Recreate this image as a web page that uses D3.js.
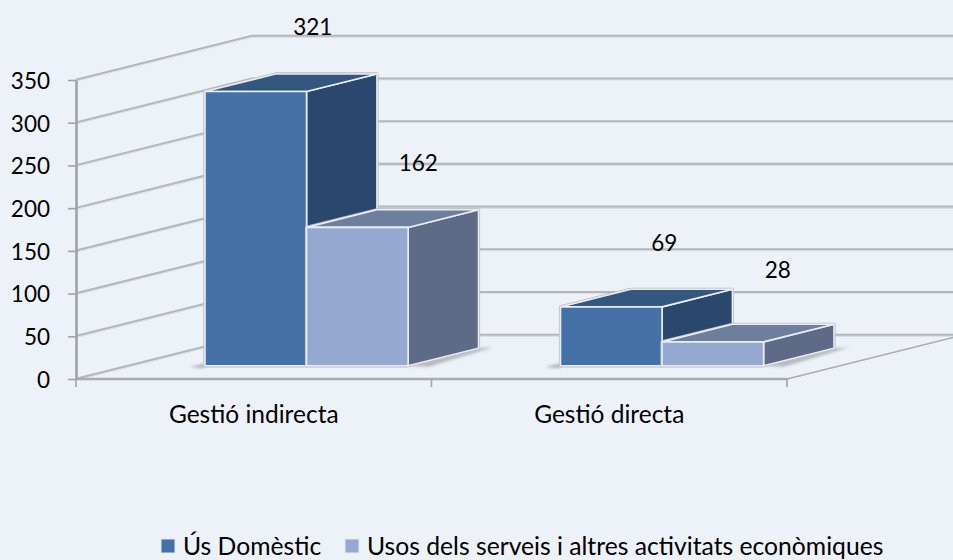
<!DOCTYPE html>
<html><head><meta charset="utf-8">
<script src="https://cdn.jsdelivr.net/npm/d3@7"></script>
<style>html,body{margin:0;padding:0;background:#EDF2F9}svg{display:block}text{font-family:Lato,"Open Sans",sans-serif;fill:#000}</style>
</head><body><div id="c"></div>
<script>
const categories = ["Gestió indirecta", "Gestió directa"];
const seriesNames = ["Ús Domèstic", "Usos dels serveis i altres activitats econòmiques"];
const usDomestic = [321, 69];
const usosServeis = [162, 28];
const yTicks = [0, 50, 100, 150, 200, 250, 300, 350];
const seriesValues = [usDomestic, usosServeis];

const W = 953, H = 560;
const frontColors = ["#4471A6", "#95A9D0"], topColors = ["#33577F", "#6E7F9D"], sideColors = ["#2B476D", "#5E6B87"];
const depthX = 176, depthY = -44, barNear = 0.3, barFar = 0.7;
// nudges from the bar's front-face centre & top, per series then category
const labelNudge = [[[57,-65],[53,-64]],[[61,-65],[65,-72]]];

const svg = d3.select("#c").append("svg").attr("width", W).attr("height", H);
const defs = svg.append("defs");
defs.append("filter").attr("id","blur").attr("x","-20%").attr("y","-50%").attr("width","140%").attr("height","200%")
  .append("feGaussianBlur").attr("stdDeviation",1.4);
const y = d3.scaleLinear().domain([0,350]).range([379,80]);
const x = d3.scaleBand().domain(categories).range([76,787]);
const xs = d3.scaleBand().domain(d3.range(2)).range([0,x.bandwidth()]).paddingOuter(0.75).paddingInner(0);
const P = (px,t,v)=>[px+depthX*t, y(v)+depthY*t];
const line = d3.line();

// gridlines on left wall and back wall
const grid = svg.append("g");
yTicks.forEach(v=>{
  const pts=[P(76,0,v),P(76,1,v),[W+10,P(76,1,v)[1]]];
  grid.append("path").attr("d",line(pts)).attr("fill","none").attr("stroke","#B4B6B9").attr("stroke-width",2.6);
  grid.append("path").attr("d",line(pts.map(p=>[p[0],p[1]+1.2]))).attr("fill","none").attr("stroke","#DDE0E4").attr("stroke-width",1);
});
// floor edges
const floorG = svg.append("g");
floorG.append("path").attr("d",line([[787,379],P(787,1,0)])).attr("stroke","#A9ABAE").attr("stroke-width",1.6).attr("fill","none");
floorG.append("path").attr("d",line([[76,379],[787,379]])).attr("stroke","#ABADB0").attr("stroke-width",2.6).attr("fill","none");

// axes
const axY = svg.append("g").attr("transform","translate(76,0)").call(d3.axisLeft(y).tickValues(yTicks).tickSize(8).tickPadding(18).tickSizeOuter(0));
axY.select(".domain").attr("stroke","#A0A2A5").attr("stroke-width",2.6);
axY.selectAll("line").attr("stroke","#A0A2A5").attr("stroke-width",1.6);
axY.selectAll("text").attr("font-size",22.5).style("font-family","Lato").attr("dy","0.37em");
const axX = svg.append("g").attr("transform","translate(0,379)").call(d3.axisBottom(x).tickSize(0).tickPadding(27));
axX.select(".domain").remove();
axX.selectAll("text").attr("font-size",24.5).style("font-family","Lato");
svg.append("g").selectAll("line").data([76,x(categories[1]),787]).join("line")
  .attr("x1",d=>d).attr("x2",d=>d).attr("y1",379).attr("y2",387).attr("stroke","#A0A2A5").attr("stroke-width",1.6);

// bars
const bars = svg.append("g");
const poly = pts => line(pts)+"Z";
categories.forEach((c,ci)=>{
  const x0=x(c)+xs(0), x1=x(c)+xs(1)+xs.bandwidth();
  const a0=P(x0,barNear,0), a1=P(x1,barNear,0), b1=P(x1,barFar,0);
  // floor shadow
  bars.append("path").attr("d",poly([[a0[0]-15,a0[1]+1],[a0[0],a0[1]-2],[a0[0],a0[1]+2],[a0[0]-8,a0[1]+2]]))
    .attr("fill","#A8ABB0").attr("filter","url(#blur)");
  bars.append("path").attr("d",poly([a1,b1,[b1[0]+15,b1[1]-1],[a1[0]+20,a1[1]+1]]))
    .attr("fill","#B4B7BC").attr("filter","url(#blur)");
  seriesValues.forEach((vals,si)=>{
    const v=vals[ci], a=x(c)+xs(si), b=a+xs.bandwidth();
    const stroke="#E9EDF3";
    const outer=[P(a,barNear,0),P(a,barNear,v),P(a,barFar,v),P(b,barFar,v),P(b,barFar,0),P(b,barNear,0)];
    bars.append("path").attr("d",poly(outer)).attr("fill","none").attr("stroke","#B9BCC1").attr("stroke-width",3.2).attr("stroke-linejoin","round");
    bars.append("path").attr("d",poly([P(b,barNear,0),P(b,barFar,0),P(b,barFar,v),P(b,barNear,v)])).attr("fill",sideColors[si]).attr("stroke",stroke).attr("stroke-width",1.6);
    bars.append("path").attr("d",poly([P(a,barNear,v),P(a,barFar,v),P(b,barFar,v),P(b,barNear,v)])).attr("fill",topColors[si]).attr("stroke",stroke).attr("stroke-width",1.6);
    bars.append("path").attr("d",poly([P(a,barNear,0),P(a,barNear,v),P(b,barNear,v),P(b,barNear,0)])).attr("fill",frontColors[si]).attr("stroke",stroke).attr("stroke-width",1.6);
  });
});
// data labels
seriesValues.forEach((vals,si)=>vals.forEach((v,ci)=>{
  const a=x(categories[ci])+xs(si), p=P(a+xs.bandwidth()/2,barNear,v), n=labelNudge[si][ci];
  svg.append("text").attr("x",p[0]+n[0]).attr("y",p[1]+n[1]).attr("dy","0.36em").attr("text-anchor","middle").attr("font-size",22.5).text(v);
}));
// legend
const legendX=[161,345], legendTextX=[183,367];
seriesNames.forEach((s,i)=>{
  svg.append("rect").attr("x",legendX[i]).attr("y",539).attr("width",14).attr("height",14).attr("fill",frontColors[i]).attr("stroke","#E3E8EF").attr("stroke-width",1);
  svg.append("text").attr("x",legendTextX[i]).attr("y",546).attr("dy","0.36em").attr("font-size",24.7).text(s);
});
</script></body></html>
